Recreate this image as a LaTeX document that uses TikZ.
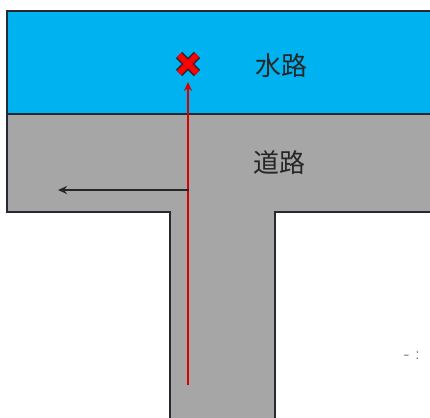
\documentclass[tikz,border=0pt]{standalone}
\usepackage{fontspec}
\newfontfamily\cjk{Noto Sans CJK JP}
\usetikzlibrary{arrows.meta,calc}
\definecolor{water}{RGB}{0,178,240}
\definecolor{road}{RGB}{166,166,166}
\definecolor{edge}{RGB}{40,40,50}
\tikzset{
  region/.style={draw=edge, line width=1.4pt},
  lbl/.style={font=\cjk\fontsize{26}{30}\selectfont, text=black!85, inner sep=0pt},
  redarrow/.style={draw=red!85!black, line width=2.4pt, -{Stealth[length=9pt,width=8pt]}},
  blkarrow/.style={draw=black!85, line width=2.4pt, -{Stealth[length=9pt,width=8pt]}},
}
\begin{document}
\begin{tikzpicture}[x=1pt,y=-1pt]
\useasboundingbox (0,0) rectangle (430,417);
\fill[white] (0,0) rectangle (430,417);
% water
\path[region, fill=water] (7,11) rectangle (432,114);
% road T
\path[region, fill=road] (7,114) -- (432,114) -- (432,212) -- (275,212) -- (275,420) -- (170,420) -- (170,212) -- (7,212) -- cycle;
% labels
\node[lbl] (suiro) at (281,66) {水路};
\node[lbl] (doro) at (279,163) {道路};
% points
\coordinate (start) at (188,385);
\coordinate (tip) at (188,82);
\coordinate (turn) at (189,190);
\coordinate (left) at (58,190);
\coordinate (xc) at (188,64);
\draw[redarrow] (start) -- (tip);
\draw[blkarrow] (turn) -- (left);
% red cross
\draw[edge, line width=9pt] ($(xc)+(-9,-9)$) -- ($(xc)+(9,9)$) ($(xc)+(-9,9)$) -- ($(xc)+(9,-9)$);
\draw[red, line width=6pt] ($(xc)+(-9,-9)$) -- ($(xc)+(9,9)$) ($(xc)+(-9,9)$) -- ($(xc)+(9,-9)$);
% partial text at bottom right
\node[font=\fontsize{18}{20}\selectfont, text=black!70, inner sep=0pt, anchor=west] (frag) at (404,356) {- :};
\end{tikzpicture}
\end{document}
